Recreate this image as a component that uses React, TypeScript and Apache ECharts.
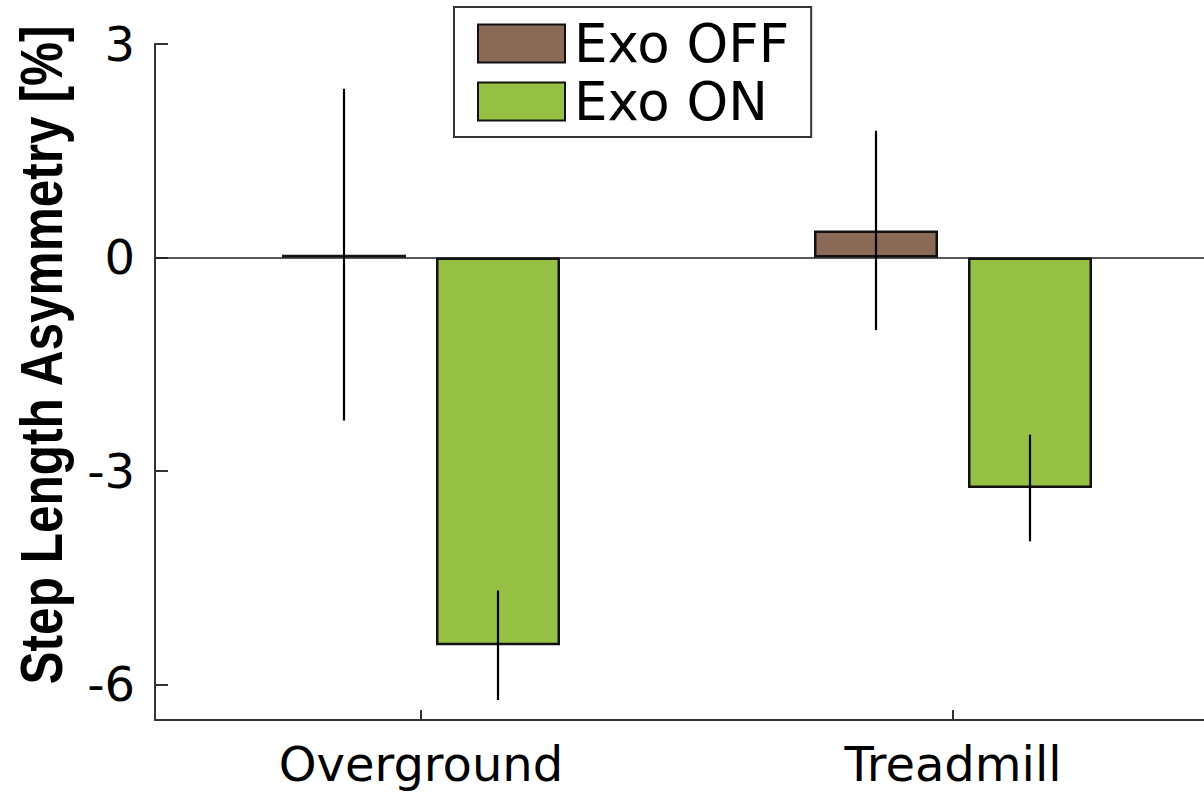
import React, { useEffect, useRef } from "react";
import * as echarts from "echarts";

// Step length asymmetry by walking condition, exoskeleton off vs. on (mean ± SD)
const categories = ["Overground", "Treadmill"];
const seriesNames = ["Exo OFF", "Exo ON"];
const exoOffMean = [0.04, 0.38];
const exoOffSd = [2.33, 1.4];
const exoOnMean = [-5.45, -3.24];
const exoOnSd = [0.77, 0.75];
const yTickValues = [-6, -3, 0, 3];

const OFF_COLOR = "#8a6a56";
const ON_COLOR = "#96c043";
const FONT = "DejaVu Sans";

const BAR_WIDTH = 124;
const BAR_GAP_PX = 30;

function errorSeries(name: string, means: number[], sds: number[], side: number) {
  const data = means.map((m, i) => [i, m - sds[i], m + sds[i]]);
  const offset = (side * (BAR_WIDTH + BAR_GAP_PX)) / 2;
  return {
    type: "custom",
    name,
    z: 5,
    silent: true,
    data,
    encode: { x: 0, y: [1, 2] },
    renderItem: (_params: any, api: any) => {
      const ci = api.value(0);
      const lo = api.coord([ci, api.value(1)]);
      const hi = api.coord([ci, api.value(2)]);
      const x = lo[0] + offset;
      return {
        type: "line",
        shape: { x1: x, y1: hi[1], x2: x, y2: lo[1] },
        style: { stroke: "#000", lineWidth: 2.2 },
      };
    },
  };
}

export default function App() {
  const ref = useRef<HTMLDivElement>(null);

  useEffect(() => {
    document.body.style.margin = "0";
    if (!ref.current) return;
    const chart = echarts.init(ref.current, undefined, { renderer: "svg" });
    chart.setOption({
      animation: false,
      backgroundColor: "#fff",
      grid: {
        left: 155,
        top: 44,
        bottom: 76,
        right: -15,
        containLabel: false,
        outerBoundsMode: "none",
      },
      legend: {
        data: seriesNames,
        orient: "vertical",
        left: 454,
        top: 7,
        padding: [10, 22, 9, 23],
        itemWidth: 87,
        itemHeight: 38,
        itemGap: 5,
        borderColor: "#333",
        borderWidth: 2,
        backgroundColor: "#fff",
        icon: "rect",
        textStyle: {
          fontFamily: FONT,
          fontSize: 53,
          color: "#000",
          padding: [0, 0, 0, 4],
        },
      },
      graphic: [
        {
          type: "text",
          x: 42,
          y: 355,
          rotation: Math.PI / 2,
          scaleX: 0.84,
          style: {
            text: "Step Length Asymmetry [%]",
            font: "bold 59px 'Liberation Sans', Arial, sans-serif",
            fill: "#000",
            align: "center",
            verticalAlign: "middle",
          },
        },
      ],
      xAxis: {
        type: "category",
        data: categories,
        axisLine: { onZero: false, lineStyle: { color: "#333", width: 2 } },
        axisTick: {
          show: true,
          inside: true,
          length: 10,
          alignWithLabel: true,
          lineStyle: { color: "#333", width: 2 },
        },
        axisLabel: { fontFamily: FONT, fontSize: 48, color: "#000", margin: 20 },
        splitLine: { show: false },
      },
      yAxis: {
        type: "value",
        min: -6.5,
        max: 3,
        axisLine: { show: true, lineStyle: { color: "#333", width: 2 } },
        axisTick: {
          show: true,
          inside: true,
          length: 13,
          customValues: yTickValues,
          lineStyle: { color: "#333", width: 2 },
        },
        axisLabel: {
          fontFamily: FONT,
          fontSize: 48,
          color: "#000",
          margin: 20,
          customValues: yTickValues,
        },
        splitLine: { show: false },
      },
      series: [
        {
          type: "bar",
          name: seriesNames[0],
          data: exoOffMean,
          barWidth: BAR_WIDTH,
          barGap: `${(BAR_GAP_PX / BAR_WIDTH) * 100}%`,
          itemStyle: { color: OFF_COLOR, borderColor: "#111", borderWidth: 2.5 },
          z: 2,
          markLine: {
            silent: true,
            symbol: "none",
            label: { show: false },
            lineStyle: { color: "#222", width: 1.5, type: "solid" },
            data: [{ yAxis: 0 }],
            z: 1,
          },
        },
        {
          type: "bar",
          name: seriesNames[1],
          data: exoOnMean,
          barWidth: BAR_WIDTH,
          itemStyle: { color: ON_COLOR, borderColor: "#111", borderWidth: 2.5 },
          z: 2,
        },
        errorSeries("Exo OFF SD", exoOffMean, exoOffSd, -1),
        errorSeries("Exo ON SD", exoOnMean, exoOnSd, 1),
      ],
    });
    return () => chart.dispose();
  }, []);

  return <div ref={ref} style={{ width: 1204, height: 796 }} />;
}
